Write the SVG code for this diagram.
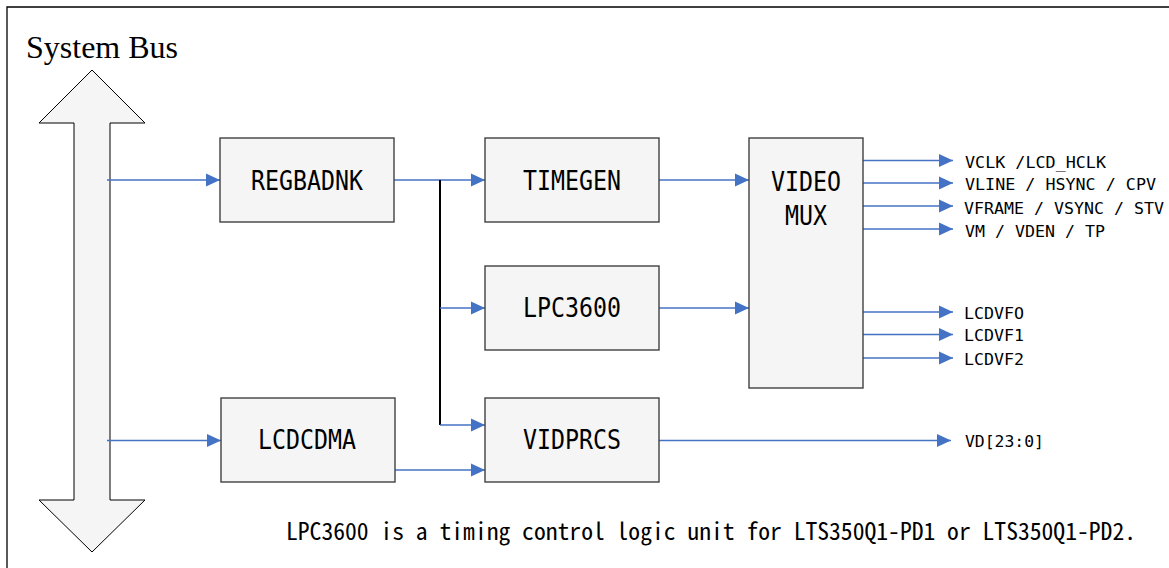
<svg xmlns="http://www.w3.org/2000/svg" width="1169" height="568" viewBox="0 0 1169 568">
  <style>
    .box { fill: #f5f5f5; stroke: #404040; stroke-width: 1.4; }
    .lbl { font-family: "DejaVu Sans Mono", "Liberation Mono", monospace; fill: #000; }
    .big { font-size: 27.4px; text-anchor: middle; }
    .sig { font-size: 16.6px; }
    .note { font-family: "Noto Sans Mono CJK SC", "Noto Sans CJK SC", "DejaVu Sans Mono", monospace; font-size: 23.6px; fill: #000; }
    .wire { fill: none; stroke: #4472C4; stroke-width: 1.3; marker-end: url(#ah); }
    .blk { fill: none; stroke: #000; stroke-width: 2; }
  </style>
  <defs>
    <marker id="ah" markerUnits="userSpaceOnUse" markerWidth="14" markerHeight="13" refX="14" refY="6.5" orient="auto" overflow="visible">
      <path d="M0,0 L14,6.5 L0,13 Z" fill="#4472C4"/>
    </marker>
  </defs>
  <rect width="1169" height="568" fill="#fff"/>
  <path d="M7,568 V7 H1169" fill="none" stroke="#000" stroke-width="1.3"/>

  <g id="system-bus">
    <text x="26" y="58" font-family="Liberation Serif, serif" font-size="32">System Bus</text>
    <polygon points="92,70 145,123 110,123 110,500 145,500 92,552 39,500 74,500 74,123 39,123" fill="#f5f5f5" stroke="#000" stroke-width="1"/>
  </g>

  <g id="connectors">
    <path class="wire" d="M107,180 H220"/>
    <path class="wire" d="M394,180 H485"/>
    <path class="blk" d="M440,180 V425"/>
    <path class="wire" d="M440,308 H485"/>
    <path class="wire" d="M440,425 H485"/>
    <path class="wire" d="M107,440.5 H221"/>
    <path class="wire" d="M395,470 H485"/>
    <path class="wire" d="M659,180 H749"/>
    <path class="wire" d="M659,308 H749"/>
    <path class="wire" d="M863,160.5 H953"/>
    <path class="wire" d="M863,183 H953"/>
    <path class="wire" d="M863,206 H953"/>
    <path class="wire" d="M863,229 H953"/>
    <path class="wire" d="M863,312 H953"/>
    <path class="wire" d="M863,334.5 H953"/>
    <path class="wire" d="M863,358 H953"/>
    <path class="wire" d="M659,440.5 H951"/>
  </g>

  <g id="regbadnk">
    <rect class="box" x="220" y="138" width="174" height="84"/>
    <text class="lbl big" x="307" y="189.5" textLength="112" lengthAdjust="spacingAndGlyphs">REGBADNK</text>
  </g>
  <g id="timegen">
    <rect class="box" x="485" y="138" width="174" height="84"/>
    <text class="lbl big" x="572" y="189.5" textLength="98" lengthAdjust="spacingAndGlyphs">TIMEGEN</text>
  </g>
  <g id="lpc3600">
    <rect class="box" x="485" y="266" width="174" height="84"/>
    <text class="lbl big" x="572" y="317" textLength="98" lengthAdjust="spacingAndGlyphs">LPC3600</text>
  </g>
  <g id="videomux">
    <rect class="box" x="749" y="138" width="114" height="250"/>
    <text class="lbl big" x="806" y="191" textLength="70" lengthAdjust="spacingAndGlyphs">VIDEO</text>
    <text class="lbl big" x="806" y="224.5" textLength="42" lengthAdjust="spacingAndGlyphs">MUX</text>
  </g>
  <g id="lcdcdma">
    <rect class="box" x="221" y="398" width="174" height="84"/>
    <text class="lbl big" x="307" y="449" textLength="98" lengthAdjust="spacingAndGlyphs">LCDCDMA</text>
  </g>
  <g id="vidprcs">
    <rect class="box" x="485" y="398" width="174" height="84"/>
    <text class="lbl big" x="572" y="449" textLength="98" lengthAdjust="spacingAndGlyphs">VIDPRCS</text>
  </g>

  <g id="signals">
    <text class="lbl sig" x="965" y="167.5" textLength="141" lengthAdjust="spacingAndGlyphs">VCLK /LCD_HCLK</text>
    <text class="lbl sig" x="965" y="190" textLength="191" lengthAdjust="spacingAndGlyphs">VLINE / HSYNC / CPV</text>
    <text class="lbl sig" x="964" y="213.5" textLength="200" lengthAdjust="spacingAndGlyphs">VFRAME / VSYNC / STV</text>
    <text class="lbl sig" x="965" y="236.5" textLength="140" lengthAdjust="spacingAndGlyphs">VM / VDEN / TP</text>
    <text class="lbl sig" x="964" y="319" textLength="60" lengthAdjust="spacingAndGlyphs">LCDVFO</text>
    <text class="lbl sig" x="964" y="341" textLength="60" lengthAdjust="spacingAndGlyphs">LCDVF1</text>
    <text class="lbl sig" x="964" y="364.5" textLength="60" lengthAdjust="spacingAndGlyphs">LCDVF2</text>
    <text class="lbl sig" x="965" y="447" textLength="79" lengthAdjust="spacingAndGlyphs">VD[23:0]</text>
  </g>

  <g id="note">
    <text class="note" x="286" y="540" textLength="850" lengthAdjust="spacingAndGlyphs">LPC3600 is a timing control logic unit for LTS350Q1-PD1 or LTS350Q1-PD2.</text>
  </g>
</svg>
